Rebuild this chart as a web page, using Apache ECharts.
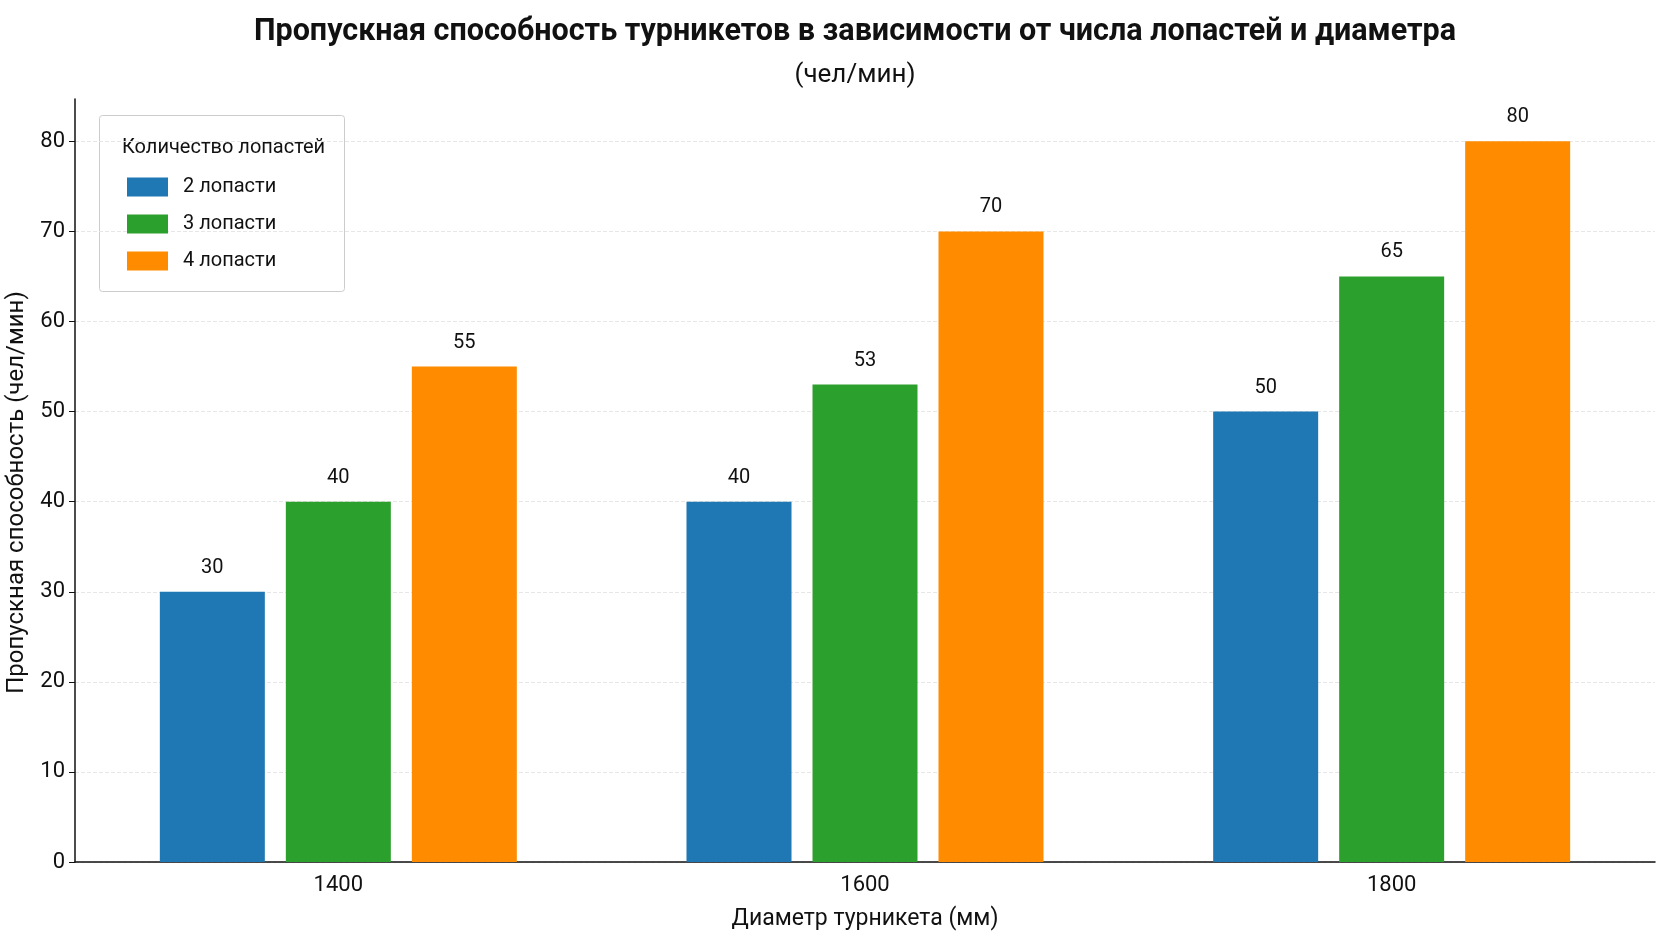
<!DOCTYPE html>
<html>
<head>
<meta charset="utf-8">
<script src="https://cdn.jsdelivr.net/npm/echarts@6/dist/echarts.min.js"></script>
<style>
	html, body { margin: 0; padding: 0; background: #fff; }
	#chart { width: 1672px; height: 941px; }
</style>
</head>
<body>
<div id="chart"></div>
<script>
var categories = ['1400', '1600', '1800'];
var seriesNames = ['2 лопасти', '3 лопасти', '4 лопасти'];
var blades2 = [30, 40, 50];
var blades3 = [40, 53, 65];
var blades4 = [55, 70, 80];
var yTicks = [0, 10, 20, 30, 40, 50, 60, 70, 80];
var colors = ['#1f77b4', '#2ca02c', '#ff8c00'];

var font = 'Roboto, "Liberation Sans", sans-serif';
var myChart = echarts.init(document.getElementById('chart'));

function makeSeries(name, values, color) {
	return {
		name: name,
		type: 'bar',
		data: values,
		barWidth: 105,
		barGap: '20%',
		itemStyle: { color: color },
		label: {
			show: true,
			position: 'top',
			distance: 14,
			color: '#111',
			fontFamily: font,
			fontSize: 20
		}
	};
}

var option = {
	backgroundColor: '#fff',
	textStyle: { fontFamily: font },
	title: {
		text: 'Пропускная способность турникетов в зависимости от числа лопастей и диаметра',
		subtext: '(чел/мин)',
		left: 850,
		textAlign: 'center',
		top: 12,
		itemGap: 14,
		textStyle: { fontSize: 30.5, fontWeight: 'bold', color: '#111', fontFamily: font },
		subtextStyle: { fontSize: 26, color: '#111', fontFamily: font }
	},
	legend: {
		orient: 'vertical',
		left: 122,
		top: 172,
		icon: 'rect',
		itemWidth: 41,
		itemHeight: 19,
		itemGap: 17,
		data: seriesNames,
		textStyle: { fontSize: 20, color: '#111', fontFamily: font, padding: [0, 0, 0, 10] }
	},
	graphic: [{
		type: 'rect',
		left: 99,
		top: 115,
		shape: { width: 245, height: 176, r: 3 },
		style: { fill: '#fff', stroke: '#ccc', lineWidth: 1 },
		z: -1
	}, {
		type: 'text',
		left: 122,
		top: 138,
		style: { text: 'Количество лопастей', fontSize: 20, fill: '#111', fontFamily: font }
	}],
	grid: { left: 75, right: 17, top: 99, bottom: 79, outerBoundsMode: 'none' },
	xAxis: {
		type: 'category',
		data: categories,
		name: 'Диаметр турникета (мм)',
		nameLocation: 'middle',
		nameGap: 46,
		nameTextStyle: { fontSize: 23, color: '#111', fontFamily: font },
		axisLine: { lineStyle: { color: '#111', width: 1.5 } },
		axisTick: { alignWithLabel: true, length: 6, lineStyle: { color: '#111' } },
		axisLabel: { fontSize: 22, color: '#111', margin: 12, fontFamily: font }
	},
	yAxis: {
		type: 'value',
		min: 0,
		max: 84.7,
		interval: 10,
		name: 'Пропускная способность (чел/мин)',
		nameLocation: 'middle',
		nameGap: 40,
		nameTextStyle: { fontSize: 24, color: '#111', fontFamily: font, padding: [0, 24, 0, 0] },
		axisLine: { show: true, lineStyle: { color: '#111', width: 1.5 } },
		axisTick: { show: true, length: 6, customValues: yTicks, lineStyle: { color: '#111' } },
		axisLabel: { fontSize: 22, color: '#111', margin: 10, customValues: yTicks, fontFamily: font },
		splitLine: { lineStyle: { color: '#e6e6e6', type: 'dashed', width: 1 } }
	},
	series: [
		makeSeries(seriesNames[0], blades2, colors[0]),
		makeSeries(seriesNames[1], blades3, colors[1]),
		makeSeries(seriesNames[2], blades4, colors[2])
	]
};

myChart.setOption(option);
</script>
</body>
</html>
